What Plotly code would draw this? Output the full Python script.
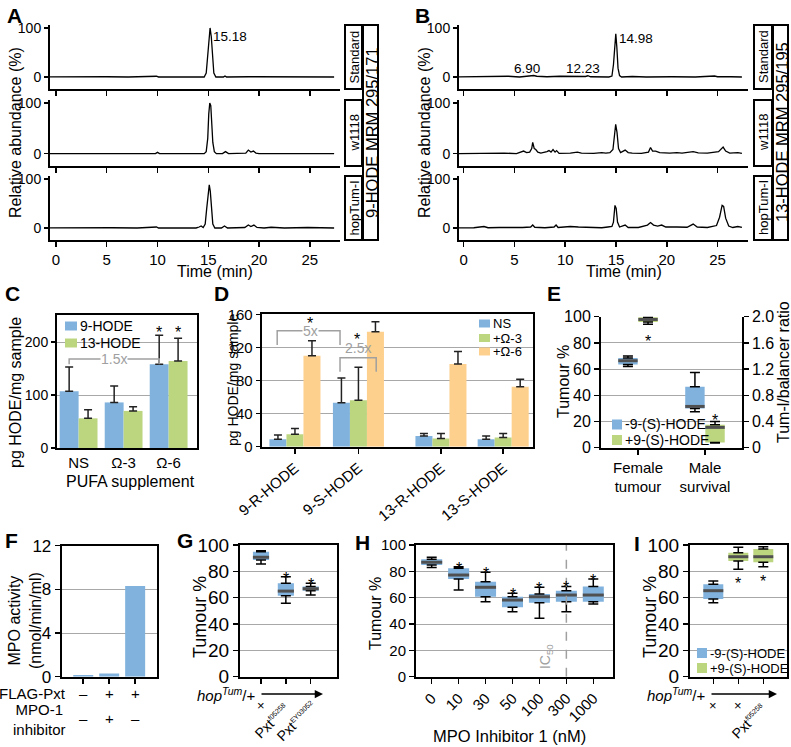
import plotly.graph_objects as go

W, H = 791, 747
FONT = "Liberation Sans, Arial, Helvetica, sans-serif"
BLUE, GREEN, ORANGE = "#80B2DD", "#BCD680", "#FDD08E"
GRID = "#A8A8A8"
GREY = "#A0A0A0"
MED = "#505050"
ARROW = "#1F8B3F"

# ======================= DATA =======================
# Panel A: 9-HODE MRM 295/171 chromatograms (time, relative abundance)
A_std_t = [-0.9, 1.5, 3.2, 5.0, 7.1, 9.9, 10.1, 12.4, 14.2, 14.6, 14.8, 14.95, 15.05, 15.18, 15.3, 15.42, 15.55, 15.75, 16.5, 16.65, 16.8, 19.0, 21.3, 23.8, 25.6, 27.4]
A_std_v = [0, 0.5, 0, 0.5, 0, 1.5, 0, 0.5, 0, 0, 8, 45, 85, 100, 82, 38, 8, 0, 0, 2, 0, 0.5, 0, 0.5, 0, 0]
A_w_t = [-0.9, 2.0, 5.0, 8.0, 9.8, 10.0, 10.2, 13.0, 14.6, 14.8, 14.95, 15.05, 15.15, 15.25, 15.35, 15.45, 15.6, 15.8, 16.4, 16.7, 17.0, 18.7, 18.95, 19.2, 19.45, 19.7, 20.0, 22.0, 25.0, 27.4]
A_w_v = [0, 0, 0.5, 0, 0, 2.5, 0, 0, 0, 4, 30, 78, 100, 95, 62, 22, 4, 0, 0, 4, 0, 1, 7, 3, 5, 1, 0, 0.5, 0, 0]
A_h_t = [-0.9, 1.0, 3.0, 5.5, 8.0, 9.9, 10.1, 12.0, 13.8, 14.1, 14.3, 14.5, 14.7, 14.85, 15.0, 15.1, 15.2, 15.32, 15.45, 15.65, 16.3, 16.6, 16.9, 18.6, 18.95, 19.2, 19.5, 19.8, 20.5, 21.2, 22.5, 24.8, 26.8, 27.4]
A_h_v = [0, 0.5, 0, 0.5, 0, 2, 0, 0.5, 0, 2, 4, 1, 8, 40, 80, 88, 75, 35, 8, 0, 0, 4, 0, 1, 6, 3, 6, 1, 0, 1.5, 0, 1, 1, 0]
A_peak_rt = 15.18
A_samples = ["Standard", "w1118", "hopTum-I"]
A_title = "9-HODE MRM 295/171"

# Panel B: 13-HODE MRM 295/195 chromatograms
B_std_t = [-0.8, 1.2, 2.8, 4.4, 5.5, 6.6, 6.9, 7.2, 8.2, 9.5, 10.8, 12.0, 12.23, 12.5, 14.3, 14.6, 14.75, 14.88, 14.98, 15.08, 15.2, 15.35, 15.55, 16.6, 18.0, 20.5, 22.8, 24.7, 25.0, 26.3, 27.4]
B_std_v = [0, 0.5, 0, 1.5, 0, 1.5, 3, 1.5, 0.5, 1.5, 0.5, 1, 2.5, 0.5, 0, 2, 25, 70, 88, 62, 18, 3, 0, 1, 0, 0.5, 0, 2, 0.5, 0.5, 0]
B_w_t = [-0.8, 1.0, 2.5, 4.0, 5.2, 5.5, 5.9, 6.2, 6.5, 6.7, 6.8, 6.95, 7.1, 7.3, 7.6, 8.2, 8.4, 8.6, 8.8, 9.0, 9.15, 9.4, 10.5, 11.2, 11.6, 12.8, 13.6, 14.0, 14.4, 14.7, 14.85, 14.97, 15.1, 15.25, 15.45, 15.9, 16.2, 16.6, 17.5, 18.2, 18.4, 18.6, 18.9, 19.3, 20.3, 21.0, 21.5, 22.0, 22.6, 23.1, 24.0, 25.1, 25.35, 25.55, 25.8, 26.2, 27.0, 27.4]
B_w_v = [0, 0.5, 0, 1, 0, 2, 5, 2, 3, 10, 22, 10, 8, 3, 1, 4, 6, 3, 8, 3, 6, 0.5, 1, 3, 1, 0.5, 2, 1, 2, 8, 35, 58, 42, 10, 2, 7, 2, 1, 0.5, 3, 12, 5, 5, 2, 1, 2, 1, 2, 4, 1.5, 1, 4, 10, 13, 5, 1, 2, 0.5]
B_h_t = [-0.8, 1.0, 2.0, 2.4, 3.5, 4.8, 5.8, 6.6, 6.8, 7.0, 8.0, 8.9, 9.1, 9.3, 10.5, 11.3, 12.5, 13.6, 14.2, 14.6, 14.75, 14.9, 15.02, 15.15, 15.35, 15.9, 16.2, 17.2, 18.1, 18.4, 18.7, 19.1, 19.5, 19.9, 21.0, 22.0, 22.6, 23.0, 24.0, 24.9, 25.2, 25.45, 25.6, 25.8, 26.1, 26.5, 27.0, 27.4]
B_h_v = [0, 0.5, 3, 0.5, 1, 0.5, 1, 2, 6, 1.5, 0.5, 2, 6, 1, 3, 2, 1, 0.5, 2, 3, 12, 46, 40, 12, 2, 6, 1, 1, 6, 11, 6, 4, 6, 2, 2, 1.5, 8, 2, 1, 5, 22, 46, 44, 20, 4, 1, 3, 1]
B_peak_rt = 14.98
B_minor_rt = [6.90, 12.23]
B_title = "13-HODE MRM 295/195"

# Panel C: pg HODE / mg sample by PUFA supplement
C_cats = ["NS", "Ω-3", "Ω-6"]
C_series = ["9-HODE", "13-HODE"]
C_9 = [107, 86, 158]
C_9_sd = [46, 31, 55]
C_13 = [56, 70, 164]
C_13_sd = [16, 8, 43]

# Panel D: HODE enantiomers
D_cats = ["9-R-HODE", "9-S-HODE", "13-R-HODE", "13-S-HODE"]
D_series = ["NS", "+Ω-3", "+Ω-6"]
D_NS = [9, 53, 13, 9]
D_NS_sd = [5, 30, 3, 4]
D_O3 = [15, 56, 10, 11]
D_O3_sd = [7, 40, 6, 5]
D_O6 = [110, 139, 100, 72.5]
D_O6_sd = [18, 12, 15, 9]

# Panel E: box stats [q1, median, q3, min, max]
E_cats = ["Female<br>tumour", "Male<br>survival"]
E_series = ["-9-(S)-HODE", "+9-(S)-HODE"]
E_f_minus = [63.5, 66.4, 68.5, 62.0, 70.0]     # Tumour %
E_f_plus = [96.0, 97.9, 99.5, 94.2, 100.0]     # Tumour %
E_m_minus = [0.60, 0.63, 0.93, 0.55, 1.15]     # Tum-l/balancer ratio
E_m_plus = [0.08, 0.31, 0.35, 0.07, 0.40]      # Tum-l/balancer ratio

# Panel F: MPO activity
F_vals = [0.15, 0.3, 8.3]
F_flag = ["–", "+", "+"]
F_inh = ["–", "+", "–"]

# Panel G
G_labels = ["×", "Pxt<sup>f05258</sup>", "Pxt<sup>EY03052</sup>"]
G_q1 = [88.6, 61.5, 65.3]
G_med = [90.7, 65.0, 66.8]
G_q3 = [94.9, 70.9, 68.4]
G_min = [85.6, 55.7, 62.0]
G_max = [95.7, 75.9, 70.9]
G_sig = [False, True, True]

# Panel H
H_conc = ["0", "10", "30", "50", "100", "300", "1000"]
H_q1 = [84.8, 74.2, 60.7, 52.7, 56.2, 57.0, 57.0]
H_med = [86.9, 77.2, 67.9, 58.2, 60.7, 62.0, 62.0]
H_q3 = [89.1, 82.3, 72.1, 60.7, 62.8, 65.3, 68.4]
H_min = [83.0, 65.8, 57.0, 49.4, 44.3, 49.4, 55.2]
H_max = [90.7, 83.5, 79.3, 63.3, 67.9, 68.4, 74.2]
H_sig = [False, True, True, True, True, True, True]
H_ic50 = "300"

# Panel I
I_labels = ["×", "×", "Pxt<sup>f05258</sup>"]
I_group = ["-", "+", "+"]
I_q1 = [59.0, 87.8, 86.9]
I_med = [65.3, 91.1, 91.1]
I_q3 = [70.2, 94.2, 97.0]
I_min = [56.2, 81.6, 83.5]
I_max = [72.7, 98.3, 98.7]
I_sig = [False, True, True]

# ======================= HELPERS =======================
traces = []
ann = []
shp = []
layout = dict(width=W, height=H, margin=dict(l=0, r=0, t=0, b=0, autoexpand=False),
              paper_bgcolor="white", plot_bgcolor="white", barmode="overlay",
              font=dict(family=FONT, color="black", size=14), showlegend=False,
              hovermode=False, template="none")


def PX(p):
    return p / W


def PY(p):
    return 1 - p / H


axcount = [0]
BASE_AX = dict(showline=True, linecolor="black", linewidth=2, ticks="outside",
               tickcolor="black", tickwidth=1.5, ticklen=5, zeroline=False,
               showgrid=False, gridcolor=GRID, gridwidth=1, fixedrange=True,
               automargin=False, tickfont=dict(family=FONT, size=14, color="black"))


def axes(xpx, ypx, xr, yr, xo=None, yo=None):
    axcount[0] += 1
    n = axcount[0]
    s = "" if n == 1 else str(n)
    xa = dict(BASE_AX, domain=[PX(xpx[0]), PX(xpx[1])], range=xr, anchor="y" + s)
    ya = dict(BASE_AX, domain=[PY(ypx[1]), PY(ypx[0])], range=yr, anchor="x" + s)
    xa.update(xo or {})
    ya.update(yo or {})
    layout["xaxis" + s] = xa
    layout["yaxis" + s] = ya
    pxu = (xpx[1] - xpx[0]) / (xr[1] - xr[0])
    return "x" + s, "y" + s, pxu


def text(x, y, t, size=14, angle=0, color="black", xanchor="center", yanchor="middle",
         xref="paper", yref="paper", bg=None, yshift=0, xshift=0):
    d = dict(x=PX(x) if xref == "paper" else x, y=PY(y) if yref == "paper" else y,
             xref=xref, yref=yref, text=t, showarrow=False,
             font=dict(size=size, color=color, family=FONT), textangle=angle,
             xanchor=xanchor, yanchor=yanchor, yshift=yshift, xshift=xshift, borderpad=0)
    if bg:
        d["bgcolor"] = bg
    ann.append(d)


def label(x, y, t):
    text(x, y, "<b>%s</b>" % t, size=21, xanchor="left")


def rect_px(x0, y0, x1, y1):
    shp.append(dict(type="rect", xref="paper", yref="paper", x0=PX(x0), x1=PX(x1),
                    y0=PY(y0), y1=PY(y1), line=dict(color="black", width=2)))


def legend_px(x, ys, names, colors, size, sw=11, sh=9):
    for y, nm, col in zip(ys, names, colors):
        shp.append(dict(type="rect", xref="paper", yref="paper", x0=PX(x), x1=PX(x + sw),
                        y0=PY(y + sh / 2), y1=PY(y - sh / 2), fillcolor=col,
                        line=dict(width=0)))
        text(x + sw + 2, y, nm, size=size, xanchor="left")


def bracket(xref, yref, x0, x1, ytop, ybot):
    path = "M %f,%f L %f,%f L %f,%f L %f,%f" % (x0, ybot, x0, ytop, x1, ytop, x1, ybot)
    shp.append(dict(type="path", xref=xref, yref=yref, path=path,
                    line=dict(color=GREY, width=1.5)))


def star(xref, yref, x, y, size=16):
    text(x, y, "*", size=size, xref=xref, yref=yref, yshift=-4)


def boxes(xa, ya, xs, q1, med, q3, lo, hi, color, width, pxu):
    n = len(xs)
    traces.append(go.Bar(x=xs, y=[b - m for b, m in zip(q3, med)], base=med, width=width,
                         marker=dict(color=color, line=dict(width=0)),
                         error_y=dict(type="data", symmetric=False,
                                      array=[h - b for h, b in zip(hi, q3)],
                                      arrayminus=[0] * n, color="black", thickness=1.5, width=5),
                         xaxis=xa, yaxis=ya))
    traces.append(go.Bar(x=xs, y=[a - m for a, m in zip(q1, med)], base=med, width=width,
                         marker=dict(color=color, line=dict(width=0)),
                         error_y=dict(type="data", symmetric=False, array=[0] * n,
                                      arrayminus=[a - l for a, l in zip(q1, lo)],
                                      color="black", thickness=1.5, width=5),
                         xaxis=xa, yaxis=ya))
    traces.append(go.Scatter(x=xs, y=med, mode="markers", cliponaxis=False,
                             marker=dict(symbol="line-ew-open", size=width * pxu / 1.4,
                                         color=MED, line=dict(color=MED, width=3)),
                             xaxis=xa, yaxis=ya))


def hop_arrow(xr_text, x_head, y):
    text(xr_text, y, "<i>hop</i><sup><i>Tum</i></sup>/+", size=15, xanchor="right")
    ann.append(dict(x=PX(x_head), y=PY(y), xref="paper", yref="paper", text=" ",
                    showarrow=True, ax=-(x_head - xr_text - 2), ay=0, arrowhead=2,
                    arrowsize=1.1, arrowwidth=1.5, arrowcolor="black", standoff=0))


def small_sup(s):
    return s.replace("<sup>", "<sup><span style='font-size:7px'>").replace("</sup>", "</span></sup>")


def genotype_labels(xa, labels):
    for i, lab in enumerate(labels):
        if lab == "×":
            text(i, 705, lab, size=13, xref=xa)
        else:
            text(i, 721, small_sup(lab), size=14, angle=-45, xref=xa, xshift=-14)


# ======================= PANEL A & B =======================
sub_dom = [(25, 89), (100, 166), (176, 240)]
chrom_yr = [-24.5, 106]

for panel in ("A", "B"):
    if panel == "A":
        xpx, xr = (50, 340), [-0.59, 27.98]
        data = [(A_std_t, A_std_v), (A_w_t, A_w_v), (A_h_t, A_h_v)]
        peak, title = A_peak_rt, A_title
        bx0, bx1, bx2 = 345, 362, 378
    else:
        xpx, xr = (459, 748), [-0.46, 28.0]
        data = [(B_std_t, B_std_v), (B_w_t, B_w_v), (B_h_t, B_h_v)]
        peak, title = B_peak_rt, B_title
        bx0, bx1, bx2 = 754, 772, 788
    for i, (t, v) in enumerate(data):
        xo = dict(tickvals=[0, 5, 10, 15, 20, 25], showticklabels=(i == 2),
                  tickfont=dict(family=FONT, size=15, color="black"))
        yo = dict(tickvals=[0, 100], ticklen=4)
        xa, ya, _ = axes(xpx, sub_dom[i], xr, chrom_yr, xo, yo)
        traces.append(go.Scatter(x=t, y=v, mode="lines", line=dict(color="black", width=1.3),
                                 xaxis=xa, yaxis=ya))
        if i == 0:
            traces.append(go.Scatter(x=[peak], y=[126 if panel == "A" else 113], mode="markers",
                                     cliponaxis=False,
                                     marker=dict(symbol="triangle-down", size=13, color=ARROW),
                                     xaxis=xa, yaxis=ya))
        rect_px(bx0, sub_dom[i][0], bx1, sub_dom[i][1])
        text((bx0 + bx1) / 2, (sub_dom[i][0] + sub_dom[i][1]) / 2, A_samples[i], size=13, angle=-90)
    rect_px(bx1 + 1, sub_dom[0][0], bx2, sub_dom[2][1])
    text((bx1 + 1 + bx2) / 2 + 1, (sub_dom[0][0] + sub_dom[2][1]) / 2, title, size=16.5, angle=-90)
    text(xpx[0] - 35, 133, "Relative abundance (%)", size=16, angle=-90)
    text((xpx[0] + xpx[1]) / 2 + 20, 271, "Time (min)", size=16)

label(6, 15, "A")
label(414, 15, "B")
text(212, 36, "%.2f" % A_peak_rt, size=13.5, xanchor="left")
text(618, 39, "%.2f" % B_peak_rt, size=13.5, xanchor="left")
text(527, 68, "%.2f" % B_minor_rt[0], size=13.5)
text(583, 68, "%.2f" % B_minor_rt[1], size=13.5)

# ======================= PANEL C =======================
label(4, 293, "C")
xa, ya, pxu = axes((57, 197), (315, 448), [-0.48, 2.63], [0, 251],
                   dict(tickvals=[0, 1, 2], ticktext=C_cats, ticks="", mirror=True,
                        tickfont=dict(family=FONT, size=15, color="black")),
                   dict(tickvals=[0, 100, 200], showgrid=True, mirror=True, ticklen=4))
cw = 0.42
for vals, sd, col, off in [(C_9, C_9_sd, BLUE, -cw / 2), (C_13, C_13_sd, GREEN, cw / 2)]:
    traces.append(go.Bar(x=[i + off for i in range(len(C_cats))], y=vals, width=cw,
                         marker=dict(color=col, line=dict(width=0)),
                         error_y=dict(type="data", symmetric=False, array=sd, arrayminus=[0] * len(sd),
                                      color="#222", thickness=1.5, width=4),
                         xaxis=xa, yaxis=ya))
star(xa, ya, 2 - cw / 2, 226)
star(xa, ya, 2 + cw / 2, 226)
bracket(xa, ya, -cw / 2, 2 - cw / 2, 168, 158)
text(0.79, 168, "1.5x", size=14, color=GREY, xref=xa, yref=ya, bg="white")
legend_px(65, [326, 343], C_series, [BLUE, GREEN], 14, sw=12, sh=9)
text(15, 393, "pg HODE/mg sample", size=16, angle=-90)
text(130, 481, "PUFA supplement", size=16)

# ======================= PANEL D =======================
label(213, 293, "D")
D_pos = [0, 1, 2.3, 3.28]
xa, ya, pxu = axes((261.7, 533), (314.3, 446.7), [-0.524, 3.75], [0, 160],
                   dict(tickvals=D_pos, ticktext=D_cats, tickangle=-40, mirror=True,
                        tickfont=dict(family=FONT, size=15, color="black")),
                   dict(tickvals=[0, 40, 80, 120, 160], showgrid=True, mirror=True, ticklen=4,
                        tickfont=dict(family=FONT, size=15, color="black")))
dw = 0.268
for vals, sd, col, off in [(D_NS, D_NS_sd, BLUE, -dw), (D_O3, D_O3_sd, GREEN, 0),
                           (D_O6, D_O6_sd, ORANGE, dw)]:
    traces.append(go.Bar(x=[p + off for p in D_pos], y=vals, width=dw,
                         marker=dict(color=col, line=dict(width=0)),
                         error_y=dict(type="data", symmetric=False, array=sd, arrayminus=[0] * len(sd),
                                      color="#222", thickness=1.5, width=4),
                         xaxis=xa, yaxis=ya))
bracket(xa, ya, -0.28, 0.71, 140, 123)
text(0.24, 140, "5x", size=14, color=GREY, xref=xa, yref=ya, bg="white")
star(xa, ya, 0.24, 154)
bracket(xa, ya, 0.71, 1.28, 107.5, 90.6)
text(0.99, 119, "2.5x", size=14, color=GREY, xref=xa, yref=ya)
star(xa, ya, 0.98, 134)
legend_px(479, [323.5, 338, 351.5], D_series, [BLUE, GREEN, ORANGE], 13, sw=11, sh=8)
text(233, 380, "pg HODE/mg sample", size=14, angle=-90)

# ======================= PANEL E =======================
label(546, 293, "E")
xa, ya, pxu = axes((601, 741.7), (316.7, 447.7), [-0.552, 1.548], [0, 100],
                   dict(tickvals=[0, 1], ticktext=E_cats,
                        tickfont=dict(family=FONT, size=15, color="black")),
                   dict(tickvals=[0, 20, 40, 60, 80, 100], showgrid=True,
                        tickfont=dict(family=FONT, size=16, color="black")))
layout["yaxis20"] = dict(BASE_AX, overlaying="y9", side="right", anchor="x9", range=[0, 2],
                         tickvals=[0, 0.4, 0.8, 1.2, 1.6, 2.0],
                         ticktext=["0", "0.4", "0.8", "1.2", "1.6", "2.0"],
                         tickfont=dict(family=FONT, size=16, color="black"))
ew, eo = 0.29, 0.15
for stats, col, xpos, yax in [(E_f_minus, BLUE, 0 - eo, ya), (E_f_plus, GREEN, 0 + eo, ya),
                              (E_m_minus, BLUE, 1 - eo, "y20"), (E_m_plus, GREEN, 1 + eo, "y20")]:
    q1, md, q3, lo, hi = stats
    boxes(xa, yax, [xpos], [q1], [md], [q3], [lo], [hi], col, ew, pxu)
star(xa, ya, eo, 84.5)
star(xa, "y20", 1 + eo, 0.47)
legend_px(612, [424.5, 440], E_series, [BLUE, GREEN], 14, sw=10, sh=10)
text(563, 382, "Tumour %", size=16, angle=-90)
text(783, 372, "Tum-l/balancer ratio", size=16, angle=-90)

# ======================= PANEL F =======================
label(4, 540, "F")
xa, ya, pxu = axes((61.7, 156.7), (545.7, 676.7), [-0.83, 2.83], [0, 12],
                   dict(tickvals=[0, 1, 2], showticklabels=False, mirror=True),
                   dict(tickvals=[0, 4, 8, 12], showgrid=True, mirror=True,
                        tickfont=dict(family=FONT, size=17, color="black")))
traces.append(go.Bar(x=list(range(len(F_vals))), y=F_vals, width=0.77,
                     marker=dict(color=BLUE, line=dict(width=0)), xaxis=xa, yaxis=ya))
text(67, 693, "FLAG-Pxt", size=15, xanchor="right")
text(67, 719, "MPO-1<br>inhibitor", size=15, xanchor="right")
for i in range(len(F_vals)):
    text(i, 693, F_flag[i], size=15, xref=xa)
    text(i, 718, F_inh[i], size=15, xref=xa)
text(25, 620, "MPO activity<br>(nmol/min/ml)", size=16, angle=-90)

# ======================= PANEL G =======================
label(176, 540, "G")
xa, ya, pxu = axes((240, 336.7), (545, 676.7), [-0.845, 3.046], [0, 100],
                   dict(tickvals=[0, 1, 2], showticklabels=False, mirror=True),
                   dict(tickvals=[0, 20, 40, 60, 80, 100], showgrid=True, mirror=True,
                        tickfont=dict(family=FONT, size=19, color="black")))
boxes(xa, ya, list(range(len(G_med))), G_q1, G_med, G_q3, G_min, G_max, BLUE, 0.65, pxu)
for i, s in enumerate(G_sig):
    if s:
        star(xa, ya, i, G_max[i] + 2)
genotype_labels(xa, G_labels)
hop_arrow(256, 323, 694)
text(200, 617, "Tumour %", size=18, angle=-90)

# ======================= PANEL H =======================
label(354, 542, "H")
xa, ya, pxu = axes((416, 613.3), (545, 676.7), [-0.583, 6.743], [0, 100],
                   dict(tickvals=list(range(len(H_conc))), ticktext=H_conc, tickangle=-45,
                        mirror=True, tickfont=dict(family=FONT, size=15, color="black")),
                   dict(tickvals=[0, 20, 40, 60, 80, 100], showgrid=True, mirror=True,
                        tickfont=dict(family=FONT, size=15, color="black")))
ic = H_conc.index(H_ic50)
shp.append(dict(type="line", xref=xa, yref=ya, x0=ic, x1=ic, y0=0, y1=100,
                line=dict(color=GREY, width=1.5, dash="dash")))
boxes(xa, ya, list(range(len(H_med))), H_q1, H_med, H_q3, H_min, H_max, BLUE, 0.78, pxu)
for i, s in enumerate(H_sig):
    if s:
        star(xa, ya, i, H_max[i] + 2)
text(ic - 0.75, 15, "IC<sub>50</sub>", size=14, angle=-90, color=GREY, xref=xa, yref=ya)
text(375, 614, "Tumour %", size=16, angle=-90)
text(510, 736, "MPO Inhibitor 1 (nM)", size=16.5)

# ======================= PANEL I =======================
label(633, 543, "I")
xa, ya, pxu = axes((690, 786.7), (545, 676.7), [-0.932, 2.936], [0, 100],
                   dict(tickvals=[0, 1, 2], showticklabels=False, mirror=True),
                   dict(tickvals=[0, 20, 40, 60, 80, 100], showgrid=True, mirror=True,
                        tickfont=dict(family=FONT, size=19, color="black")))
for g, col in [("-", BLUE), ("+", GREEN)]:
    idx = [i for i, gg in enumerate(I_group) if gg == g]
    boxes(xa, ya, idx, [I_q1[i] for i in idx], [I_med[i] for i in idx], [I_q3[i] for i in idx],
          [I_min[i] for i in idx], [I_max[i] for i in idx], col, 0.8, pxu)
for i, s in enumerate(I_sig):
    if s:
        star(xa, ya, i, I_min[i] - 8)
legend_px(697, [653, 668], E_series, [BLUE, GREEN], 13, sw=10, sh=10)
genotype_labels(xa, I_labels)
hop_arrow(706, 777, 694)
text(650, 617, "Tumour %", size=18, angle=-90)

layout["annotations"] = ann
layout["shapes"] = shp
fig = go.Figure(data=traces, layout=layout)
fig.update_traces(showlegend=False, hoverinfo="skip")
fig.write_html("out.html", config={"displayModeBar": False, "staticPlot": True},
               post_script="document.body.style.margin='0';document.body.style.overflow='hidden';")
